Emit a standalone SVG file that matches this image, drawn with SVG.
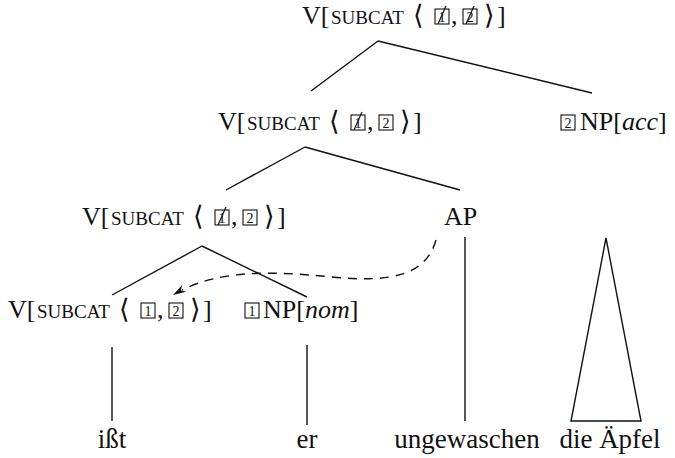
<svg xmlns="http://www.w3.org/2000/svg" width="675" height="458" viewBox="0 0 675 458">
<style>
text{font-family:"Liberation Serif","Times New Roman",serif;fill:#111}
.lb{font-size:26px}
.sc{font-size:19px}
.ang{font-family:"DejaVu Serif","DejaVu Sans",serif;font-size:27px}
.dg{font-size:14px;text-anchor:middle}
.it{font-style:italic}
.w{font-size:27px;text-anchor:middle}
.bx{fill:none;stroke:#111;stroke-width:1.1}
.sl{stroke:#111;stroke-width:1.2}
.ln{stroke:#111;stroke-width:1.4;fill:none}
.da{stroke:#111;stroke-width:1.4;fill:none;stroke-dasharray:9 7}
.ah{fill:#111}
</style>

<g id="n1" transform="translate(302,24)">
<text class="lb" x="0" y="0">V[</text>
<text class="sc" x="29" y="0">SUBCAT</text>
<text class="ang" x="111" y="0">⟨</text>
<rect class="bx" x="133" y="-15" width="14" height="15"/><text class="dg" x="140" y="-2.5">1</text>
<line class="sl" x1="136" y1="0" x2="144" y2="-18"/>
<text class="lb" x="149" y="0">,</text>
<rect class="bx" x="161" y="-15" width="14" height="15"/><text class="dg" x="168" y="-2.5">2</text>
<line class="sl" x1="164" y1="0" x2="172" y2="-18"/>
<text class="ang" x="182" y="0">⟩</text>
<text class="lb" x="195" y="0">]</text>
</g>

<g id="n2" transform="translate(218,130)">
<text class="lb" x="0" y="0">V[</text>
<text class="sc" x="29" y="0">SUBCAT</text>
<text class="ang" x="111" y="0">⟨</text>
<rect class="bx" x="133" y="-15" width="14" height="15"/><text class="dg" x="140" y="-2.5">1</text>
<line class="sl" x1="136" y1="0" x2="144" y2="-18"/>
<text class="lb" x="149" y="0">,</text>
<rect class="bx" x="161" y="-15" width="14" height="15"/><text class="dg" x="168" y="-2.5">2</text>
<text class="ang" x="182" y="0">⟩</text>
<text class="lb" x="195" y="0">]</text>
</g>

<g id="n3" transform="translate(561,130)">
<rect class="bx" x="0" y="-15" width="14" height="15"/><text class="dg" x="7" y="-2.5">2</text>
<text class="lb" x="19" y="0">NP[<tspan class="it">acc</tspan>]</text>
</g>

<g id="n4" transform="translate(82,225)">
<text class="lb" x="0" y="0">V[</text>
<text class="sc" x="29" y="0">SUBCAT</text>
<text class="ang" x="111" y="0">⟨</text>
<rect class="bx" x="133" y="-15" width="14" height="15"/><text class="dg" x="140" y="-2.5">1</text>
<line class="sl" x1="136" y1="0" x2="144" y2="-18"/>
<text class="lb" x="149" y="0">,</text>
<rect class="bx" x="161" y="-15" width="14" height="15"/><text class="dg" x="168" y="-2.5">2</text>
<text class="ang" x="182" y="0">⟩</text>
<text class="lb" x="195" y="0">]</text>
</g>

<g id="n5">
<text class="lb" x="444" y="225">AP</text>
</g>

<g id="n6" transform="translate(8,318)">
<text class="lb" x="0" y="0">V[</text>
<text class="sc" x="29" y="0">SUBCAT</text>
<text class="ang" x="111" y="0">⟨</text>
<rect class="bx" x="133" y="-15" width="14" height="15"/><text class="dg" x="140" y="-2.5">1</text>
<text class="lb" x="149" y="0">,</text>
<rect class="bx" x="161" y="-15" width="14" height="15"/><text class="dg" x="168" y="-2.5">2</text>
<text class="ang" x="182" y="0">⟩</text>
<text class="lb" x="195" y="0">]</text>
</g>

<g id="n7" transform="translate(245,318)">
<rect class="bx" x="0" y="-15" width="14" height="15"/><text class="dg" x="7" y="-2.5">1</text>
<text class="lb" x="18" y="0">NP[<tspan class="it">nom</tspan>]</text>
</g>

<g id="w1"><text class="w" x="112" y="448">ißt</text></g>
<g id="w2"><text class="w" x="307" y="448">er</text></g>
<g id="w3"><text class="w" x="467" y="448">ungewaschen</text></g>
<g id="w4"><text class="w" x="610" y="448">die Äpfel</text></g>

<g id="connectors">
<line class="ln" x1="378" y1="41" x2="311" y2="91"/>
<line class="ln" x1="378" y1="41" x2="592" y2="93"/>
<line class="ln" x1="305" y1="147" x2="226" y2="190"/>
<line class="ln" x1="305" y1="147" x2="460" y2="190"/>
<line class="ln" x1="202" y1="246" x2="112" y2="295"/>
<line class="ln" x1="202" y1="246" x2="307" y2="297"/>
<line class="ln" x1="112" y1="347" x2="112" y2="421"/>
<line class="ln" x1="307" y1="345" x2="307" y2="425"/>
<line class="ln" x1="465" y1="237" x2="465" y2="421"/>
<path class="ln" d="M606,238 L571,421 L641,421 Z"/>
<path class="da" d="M436,240 C426,275 392,283 332,277 C272,271 222,270 182,290"/>
<path class="ah" d="M173,295 L186.2,291.8 L180.8,290.4 L182.2,284.9 Z"/>
</g>
</svg>
